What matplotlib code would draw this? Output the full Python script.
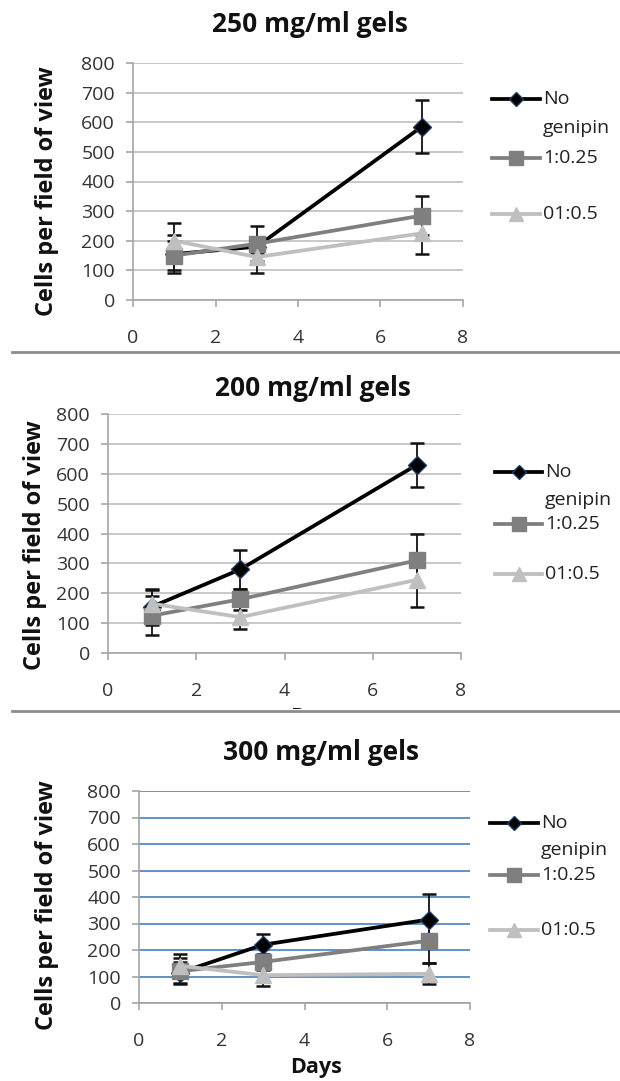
import matplotlib
matplotlib.use("Agg")
import matplotlib.pyplot as plt
from matplotlib.lines import Line2D
from matplotlib.transforms import Bbox

plt.rcParams['font.family'] = ['Open Sans', 'DejaVu Sans']

W, H = 620, 1081

# ---- data ----
days = [1, 3, 7]
series_names = ["No\ngenipin", "1:0.25", "01:0.5"]

titles = ["250 mg/ml gels", "200 mg/ml gels", "300 mg/ml gels"]

# 250 mg/ml
g250_none = [155, 180, 585]
g250_none_err = [65, 20, 90]
g250_q = [150, 190, 285]
g250_q_err = [50, 60, 65]
g250_h = [200, 145, 225]
g250_h_err = [60, 55, 70]

# 200 mg/ml
g200_none = [155, 280, 630]
g200_none_err = [60, 65, 73]
g200_q = [125, 180, 310]
g200_q_err = [65, 35, 90]
g200_h = [165, 120, 245]
g200_h_err = [45, 40, 90]

# 300 mg/ml
g300_none = [115, 220, 315]
g300_none_err = [40, 40, 95]
g300_q = [120, 155, 235]
g300_q_err = [50, 30, 85]
g300_h = [140, 105, 110]
g300_h_err = [45, 40, 40]

x_ticks = [0, 2, 4, 6, 8]
y_ticks = [0, 100, 200, 300, 400, 500, 600, 700, 800]

# ---- styles ----
STYLES = [
	dict(color="#000000", marker="D", ms=9, mfc="#000000", mec="#1f3a60", lw=2.7),
	dict(color="#7f7f7f", marker="s", ms=12, mfc="#7f7f7f", mec="#7f7f7f", lw=2.7),
	dict(color="#bfbfbf", marker="^", ms=12, mfc="#bfbfbf", mec="#bfbfbf", lw=2.7),
]

def fx(x):
	return x / W

def fy(y):
	return 1 - y / H

fig = plt.figure(figsize=(W / 100, H / 100), dpi=100)

def make_panel(rect_px, title, title_xy, ylab_xy, legend_px, grid_color, data):
	left, right, top, bottom = rect_px
	ax = fig.add_axes([fx(left), fy(bottom), (right - left) / W, (bottom - top) / H])
	for (vals, errs), st in zip(data, STYLES):
		ax.errorbar(days, vals, yerr=errs, color=st["color"], lw=st["lw"],
			marker=st["marker"], ms=st["ms"], mfc=st["mfc"], mec=st["mec"],
			ecolor="#111111", elinewidth=1.3, capsize=5, capthick=1.8)
	ax.set_xlim(0, 8)
	ax.set_ylim(0, 800)
	ax.set_xticks(x_ticks)
	ax.set_yticks(y_ticks)
	ax.yaxis.grid(True, color=grid_color, lw=1.2)
	ax.set_axisbelow(True)
	for s in ["top", "right"]:
		ax.spines[s].set_visible(False)
	for s in ["left", "bottom"]:
		ax.spines[s].set_color("#a6a6a6")
		ax.spines[s].set_linewidth(1.2)
	ax.tick_params(axis="both", direction="out", length=5, width=1.2, color="#a6a6a6",
		labelsize=14, labelcolor="#333333")
	ax.tick_params(axis="x", pad=16)
	ax.tick_params(axis="y", pad=8)

	fig.text(fx(title_xy[0]), fy(title_xy[1]), title, ha="center", va="center",
		fontsize=19, fontweight="bold", color="#111111")
	fig.text(fx(ylab_xy[0]), fy(ylab_xy[1]), "Cells per field of view", rotation=90,
		ha="center", va="center", fontsize=17, fontweight="bold", color="#111111")

	# legend drawn by hand (Excel style: handle next to first text line)
	lx0, lx1, rows, extra = legend_px
	for name, st, ry in zip(series_names, STYLES, rows):
		line = Line2D([fx(lx0), fx(lx1)], [fy(ry), fy(ry)], transform=fig.transFigure,
			color=st["color"], lw=st["lw"])
		mk = Line2D([fx((lx0 + lx1) / 2)], [fy(ry)], transform=fig.transFigure,
			marker=st["marker"], ms=st["ms"] * 0.8, mfc=st["mfc"], mec=st["mec"], lw=0)
		fig.add_artist(line)
		fig.add_artist(mk)
		first = name.split("\n")[0]
		fig.text(fx(lx1 + 3), fy(ry), first, ha="left", va="center", fontsize=14, color="#222222")
		if "\n" in name:
			fig.text(fx(lx1 + 3), fy(extra), name.split("\n")[1], ha="left", va="center",
				fontsize=14, color="#222222")
	return ax

make_panel((133, 463, 63, 300), titles[0], (310, 25), (47, 191),
	(492, 540, [99, 158, 214], 128), "#bfbfbf",
	[(g250_none, g250_none_err), (g250_q, g250_q_err), (g250_h, g250_h_err)])

make_panel((108, 461, 414, 653), titles[1], (313, 389), (35, 545),
	(495, 542, [472, 524, 574], 500), "#bfbfbf",
	[(g200_none, g200_none_err), (g200_q, g200_q_err), (g200_h, g200_h_err)])

ax3 = make_panel((139, 470, 791, 1003), titles[2], (321, 752), (47, 905),
	(490, 538, [823, 875, 930], 850), "#4a7ebb",
	[(g300_none, g300_none_err), (g300_q, g300_q_err), (g300_h, g300_h_err)])

fig.text(fx(316), fy(1068), "Days", ha="center", va="center", fontsize=15.5,
	fontweight="bold", color="#111111")

# "Days" of the middle chart, cut off by the separator
t = fig.text(fx(316), fy(717), "Days", ha="center", va="center", fontsize=15.5,
	fontweight="bold", color="#111111")
t.set_clip_box(Bbox([[0, H - 709], [W, H]]))
t.set_clip_on(True)

# separator lines between the pasted charts
for sy in [352, 711]:
	fig.add_artist(Line2D([fx(12), 1], [fy(sy), fy(sy)], transform=fig.transFigure,
		color="#8c8c8c", lw=2))

fig.savefig("out.png", dpi=100)
